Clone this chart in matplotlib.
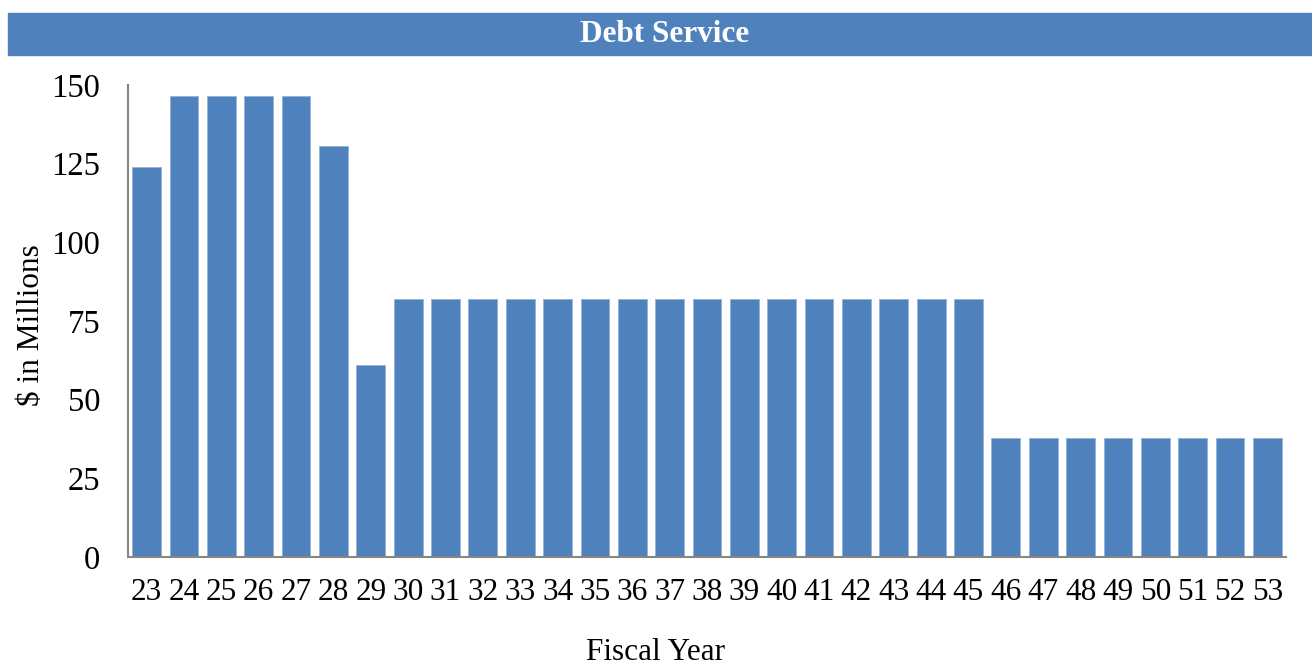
import numpy as np
import matplotlib.pyplot as plt
from matplotlib.patches import Rectangle

years = [str(y) for y in range(23, 54)]
debt = [124, 146.5, 146.5, 146.5, 146.5, 130.6, 61] + [82] * 16 + [37.7] * 8

blue = '#4F81BD'
plt.rcParams['font.family'] = ['Liberation Serif', 'DejaVu Serif']

fig = plt.figure(figsize=(13.12, 6.64), dpi=100)
W, H = 1312, 664

# title band
fig.patches.append(Rectangle((8 / W, 1 - 55 / H), 1 - 8 / W, 42 / H,
                             transform=fig.transFigure, color=blue, zorder=0))
fig.text(665 / W, 1 - 35 / H, 'Debt Service', color='white', fontsize=22.5,
         fontweight='bold', ha='center', va='center')

ax = fig.add_axes([128 / W, 1 - 557 / H, (1286 - 128) / W, (557 - 85) / H])
x = np.arange(len(years))
ax.bar(x, debt, width=0.77, color=blue, edgecolor='#95B3D7', linewidth=0.6)

ax.set_xlim(-0.5, len(years) - 0.5)
ax.set_ylim(0, 150)
ax.set_yticks(np.arange(0, 151, 25))
ax.set_xticks(x)
ax.set_xticklabels(years)
ax.tick_params(axis='x', length=0, labelsize=22.5, pad=15)
ax.tick_params(axis='y', length=0, labelsize=23.5, pad=20)

for s in ['top', 'right']:
    ax.spines[s].set_visible(False)
for s in ['left', 'bottom']:
    ax.spines[s].set_color('#868686')
    ax.spines[s].set_linewidth(1.5)

fig.text(32 / W, 1 - 325 / H, '$ in Millions', rotation=90, fontsize=22.5,
         ha='center', va='center')
fig.text(656 / W, 1 - 652 / H, 'Fiscal Year', fontsize=22.5,
         ha='center', va='center')

fig.savefig('out.png', dpi=100)
